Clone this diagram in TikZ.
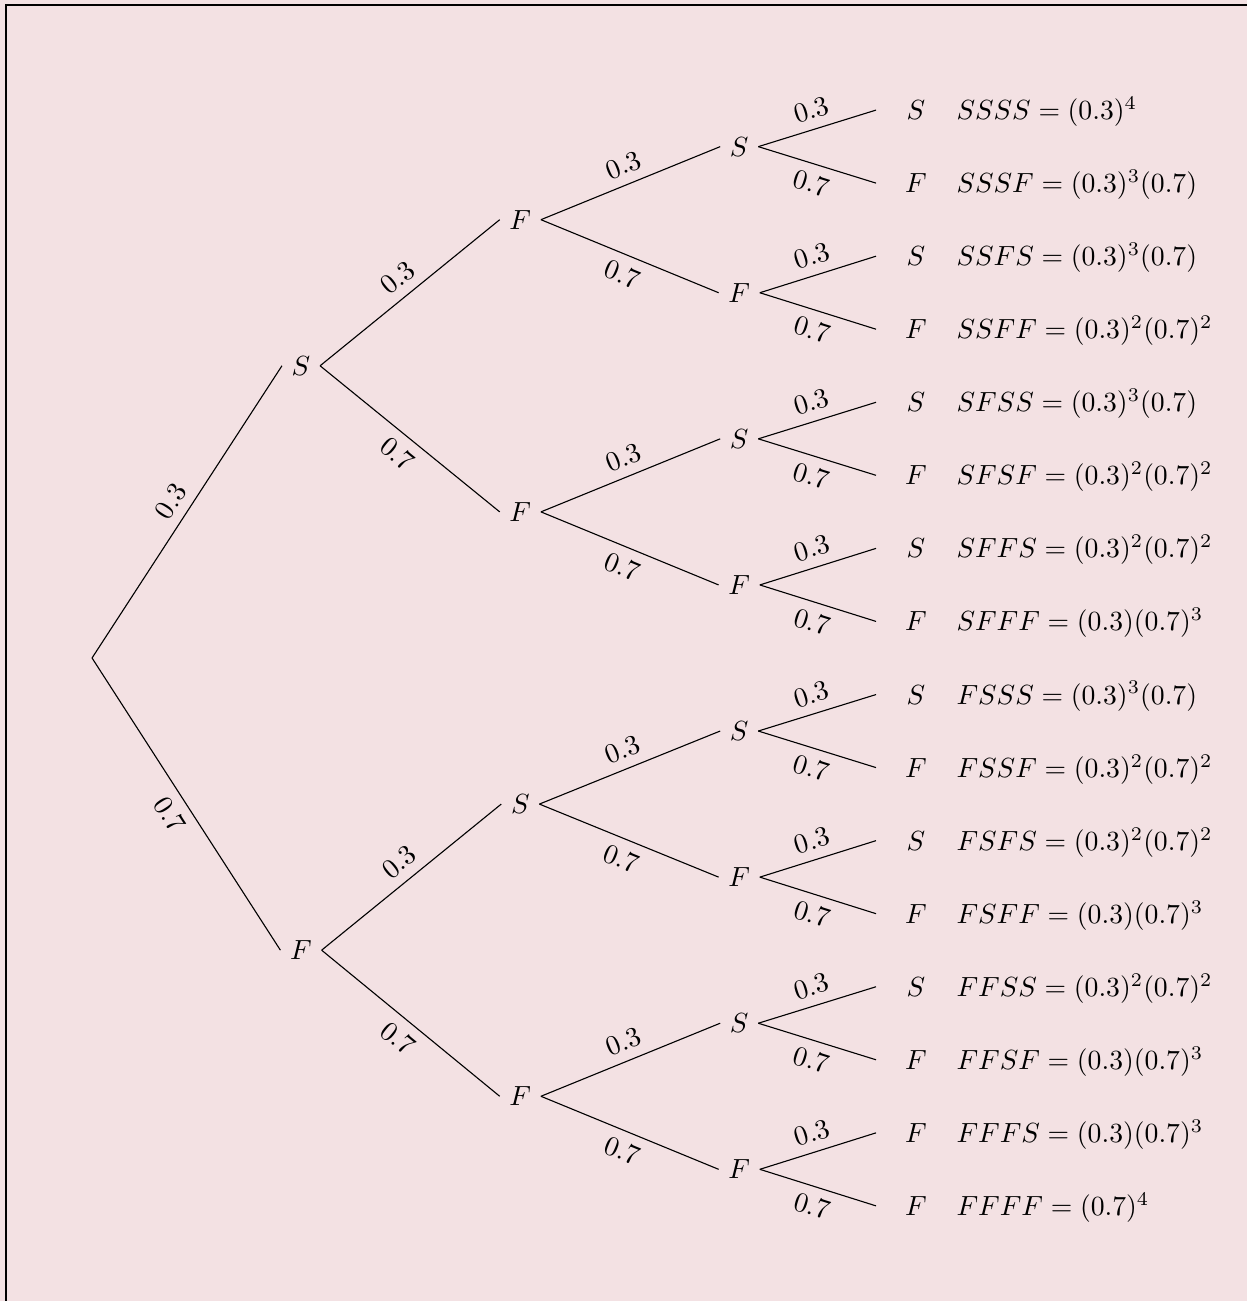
\documentclass[tikz,border=0pt]{standalone}
\usepackage{xcolor}
\usepackage{tikz}
\usetikzlibrary{positioning}
\definecolor{bgpink}{HTML}{F3E1E3}

\begin{document}
\begin{tikzpicture}[
    leaf/.style={anchor=west, minimum width=1cm},
    prob/.style={inner xsep=0pt},
    br/.style={midway, sloped}
]
    % Background and frame
    \useasboundingbox (-1.168,-8.160) rectangle (14.657,8.350);
    \fill[bgpink] (-1.168,-8.160) rectangle (14.657,8.350);
    \draw[line width=0.6pt] (-1.088,-8.160) -- (-1.088,8.287) -- (14.657,8.287);

    % Root and first trial
    \coordinate (r) at (0,0);
    \node (s) at (2.652,3.708) {$S$};
    \node (f) at (2.652,-3.708) {$F$};

    % Second trial
    \node (ss) at (5.435,5.562) {$F$};
    \node (sf) at (5.435,1.854) {$F$};
    \node (fs) at (5.435,-1.854) {$S$};
    \node (ff) at (5.435,-5.562) {$F$};

    % Third trial
    \node (sss) at (8.213,6.489) {$S$};
    \node (ssf) at (8.213,4.635) {$F$};
    \node (sfs) at (8.213,2.781) {$S$};
    \node (sff) at (8.213,0.927) {$F$};
    \node (fss) at (8.213,-0.927) {$S$};
    \node (fsf) at (8.213,-2.781) {$F$};
    \node (ffs) at (8.213,-4.635) {$S$};
    \node (fff) at (8.213,-6.489) {$F$};

    % Fourth trial and outcomes
    \node[leaf] (ssss) at (9.949,6.953) {$S$};
    \node[prob, base right=0pt of ssss] (ssssp) {$SSSS = (0.3)^4$};
    \node[leaf] (sssf) at (9.949,6.026) {$F$};
    \node[prob, base right=0pt of sssf] (sssfp) {$SSSF = (0.3)^3(0.7)$};
    \node[leaf] (ssfs) at (9.949,5.099) {$S$};
    \node[prob, base right=0pt of ssfs] (ssfsp) {$SSFS = (0.3)^3(0.7)$};
    \node[leaf] (ssff) at (9.949,4.172) {$F$};
    \node[prob, base right=0pt of ssff] (ssffp) {$SSFF = (0.3)^2(0.7)^2$};
    \node[leaf] (sfss) at (9.949,3.245) {$S$};
    \node[prob, base right=0pt of sfss] (sfssp) {$SFSS = (0.3)^3(0.7)$};
    \node[leaf] (sfsf) at (9.949,2.318) {$F$};
    \node[prob, base right=0pt of sfsf] (sfsfp) {$SFSF = (0.3)^2(0.7)^2$};
    \node[leaf] (sffs) at (9.949,1.391) {$S$};
    \node[prob, base right=0pt of sffs] (sffsp) {$SFFS = (0.3)^2(0.7)^2$};
    \node[leaf] (sfff) at (9.949,0.464) {$F$};
    \node[prob, base right=0pt of sfff] (sfffp) {$SFFF = (0.3)(0.7)^3$};
    \node[leaf] (fsss) at (9.949,-0.464) {$S$};
    \node[prob, base right=0pt of fsss] (fsssp) {$FSSS = (0.3)^3(0.7)$};
    \node[leaf] (fssf) at (9.949,-1.391) {$F$};
    \node[prob, base right=0pt of fssf] (fssfp) {$FSSF = (0.3)^2(0.7)^2$};
    \node[leaf] (fsfs) at (9.949,-2.318) {$S$};
    \node[prob, base right=0pt of fsfs] (fsfsp) {$FSFS = (0.3)^2(0.7)^2$};
    \node[leaf] (fsff) at (9.949,-3.245) {$F$};
    \node[prob, base right=0pt of fsff] (fsffp) {$FSFF = (0.3)(0.7)^3$};
    \node[leaf] (ffss) at (9.949,-4.172) {$S$};
    \node[prob, base right=0pt of ffss] (ffssp) {$FFSS = (0.3)^2(0.7)^2$};
    \node[leaf] (ffsf) at (9.949,-5.099) {$F$};
    \node[prob, base right=0pt of ffsf] (ffsfp) {$FFSF = (0.3)(0.7)^3$};
    \node[leaf] (fffs) at (9.949,-6.026) {$F$};
    \node[prob, base right=0pt of fffs] (fffsp) {$FFFS = (0.3)(0.7)^3$};
    \node[leaf] (ffff) at (9.949,-6.953) {$F$};
    \node[prob, base right=0pt of ffff] (ffffp) {$FFFF = (0.7)^4$};

    % Branches
    \draw (r) -- node[br, above] {0.3} (s.west);
    \draw (r) -- node[br, below] {0.7} (f.west);

    \draw (s.east) -- node[br, above] {0.3} (ss.west);
    \draw (s.east) -- node[br, below] {0.7} (sf.west);
    \draw (f.east) -- node[br, above] {0.3} (fs.west);
    \draw (f.east) -- node[br, below] {0.7} (ff.west);

    \draw (ss.east) -- node[br, above] {0.3} (sss.west);
    \draw (ss.east) -- node[br, below] {0.7} (ssf.west);
    \draw (sf.east) -- node[br, above] {0.3} (sfs.west);
    \draw (sf.east) -- node[br, below] {0.7} (sff.west);
    \draw (fs.east) -- node[br, above] {0.3} (fss.west);
    \draw (fs.east) -- node[br, below] {0.7} (fsf.west);
    \draw (ff.east) -- node[br, above] {0.3} (ffs.west);
    \draw (ff.east) -- node[br, below] {0.7} (fff.west);

    \draw (sss.east) -- node[br, above] {0.3} (ssss.west);
    \draw (sss.east) -- node[br, below] {0.7} (sssf.west);
    \draw (ssf.east) -- node[br, above] {0.3} (ssfs.west);
    \draw (ssf.east) -- node[br, below] {0.7} (ssff.west);
    \draw (sfs.east) -- node[br, above] {0.3} (sfss.west);
    \draw (sfs.east) -- node[br, below] {0.7} (sfsf.west);
    \draw (sff.east) -- node[br, above] {0.3} (sffs.west);
    \draw (sff.east) -- node[br, below] {0.7} (sfff.west);
    \draw (fss.east) -- node[br, above] {0.3} (fsss.west);
    \draw (fss.east) -- node[br, below] {0.7} (fssf.west);
    \draw (fsf.east) -- node[br, above] {0.3} (fsfs.west);
    \draw (fsf.east) -- node[br, below] {0.7} (fsff.west);
    \draw (ffs.east) -- node[br, above] {0.3} (ffss.west);
    \draw (ffs.east) -- node[br, below] {0.7} (ffsf.west);
    \draw (fff.east) -- node[br, above] {0.3} (fffs.west);
    \draw (fff.east) -- node[br, below] {0.7} (ffff.west);
\end{tikzpicture}
\end{document}
